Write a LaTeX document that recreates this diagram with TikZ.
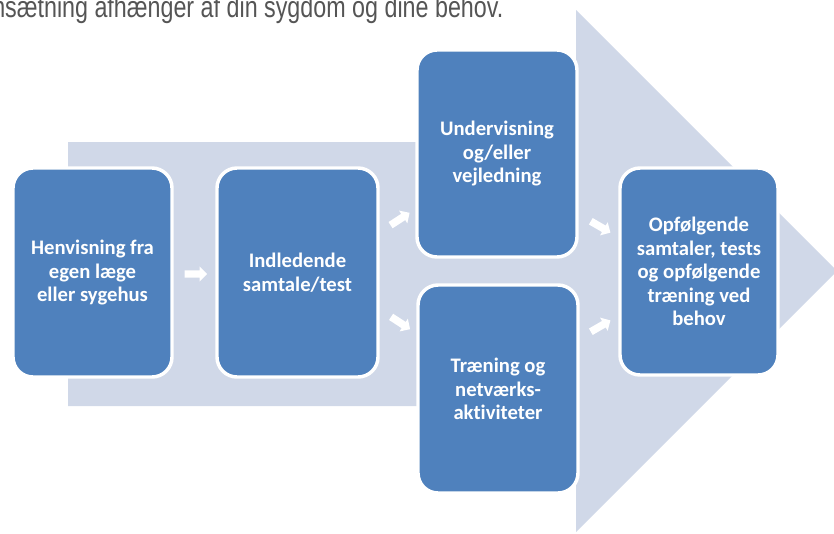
\documentclass[tikz,border=0pt]{standalone}
\usepackage{fontspec}
\setmainfont[Ligatures=NoCommon]{Carlito}
\newfontfamily\topfont{Liberation Sans}
\usetikzlibrary{shapes.arrows}
\definecolor{bgarrow}{RGB}{208,216,232}
\definecolor{boxblue}{RGB}{79,129,189}
\definecolor{toptext}{RGB}{85,85,85}
\tikzset{
  stage/.style={draw=white, line width=2.6pt, fill=boxblue, rounded corners=15pt,
    text=white, font=\bfseries\fontsize{15.5}{17.6}\selectfont, align=center,
    inner sep=0pt},
  blockarrow/.style={single arrow, fill=white, draw=none, minimum height=17pt,
    minimum width=11pt, single arrow head extend=2.9pt, single arrow head indent=0pt,
    inner xsep=0pt, inner ysep=2.6pt},
}
\begin{document}
\begin{tikzpicture}[x=0.75pt,y=-0.75pt]
\useasboundingbox (0,0) rectangle (834,533);
\clip (0,0) rectangle (834,533);
\fill[white] (0,0) rectangle (834,533);
% background arrow
\fill[bgarrow] (68,142) -- (576,142) -- (576,10) -- (837,271) -- (576,532) -- (576,406) -- (68,406) -- cycle;
% top text
\node[anchor=base west, inner sep=0pt, text=toptext, font=\topfont\fontsize{22.4}{24}\selectfont] (toptxt) at (-8,17)
  {\scalebox{0.78}[1]{nsætning afhænger af din sygdom og dine behov.}};
% stages
\node[stage, minimum width=119.25pt, minimum height=156.75pt] (s1) at (92.5,272.5) {Henvisning fra\\egen læge\\eller sygehus};
\node[stage, minimum width=120.75pt, minimum height=156.75pt] (s2) at (297.5,272.5) {Indledende\\samtale/test};
\node[stage, minimum width=120pt, minimum height=155.25pt] (s3) at (497,153.5) {Undervisning\\og/eller\\vejledning};
\node[stage, minimum width=120pt, minimum height=156pt] (s4) at (498,389) {Træning og\\netværks-\\aktiviteter};
\node[stage, minimum width=118.5pt, minimum height=155.25pt] (s5) at (699,271.5) {Opfølgende\\samtaler, tests\\og opfølgende\\træning ved\\behov};
% small block arrows
\node[blockarrow] (a12) at (194,274) {};
\node[blockarrow, rotate=33] (a23) at (398.5,220) {};
\node[blockarrow, rotate=-33] (a24) at (399,322) {};
\node[blockarrow, rotate=-30] (a35) at (599,226) {};
\node[blockarrow, rotate=30] (a45) at (599,327) {};
\end{tikzpicture}
\end{document}
